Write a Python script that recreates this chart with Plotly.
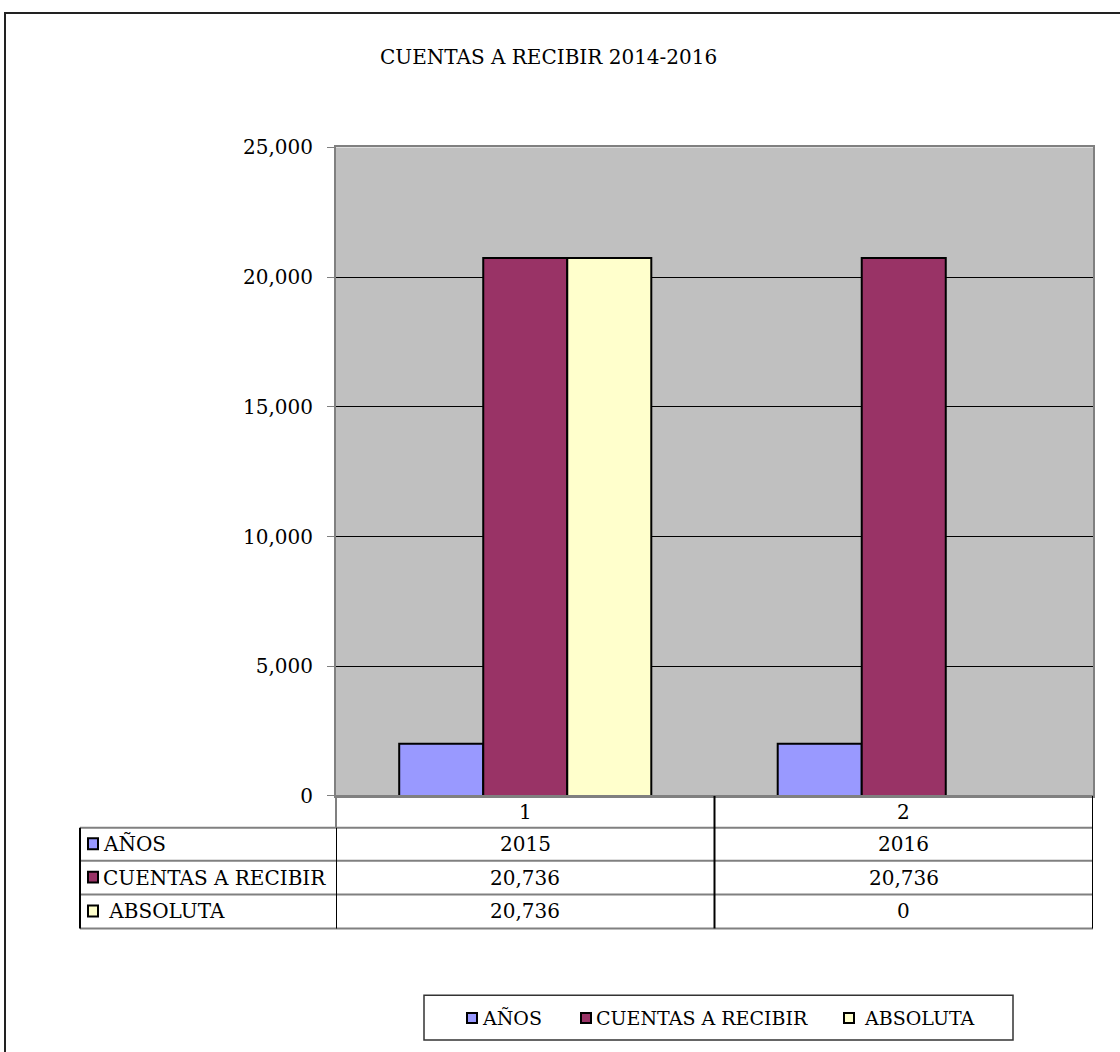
import plotly.graph_objects as go

# ---------------- data ----------------
categories = [1, 2]
years = [2015, 2016]
series_names = ["AÑOS", "CUENTAS A RECIBIR", " ABSOLUTA"]
anos_values = [2015, 2016]
cuentas_values = [20736, 20736]
absoluta_values = [20736, 0]
series_colors = ["#9999ff", "#993366", "#ffffcc"]
y_ticks = [0, 5000, 10000, 15000, 20000, 25000]
title_text = "CUENTAS A RECIBIR 2014-2016"

series_values = [anos_values, cuentas_values, absoluta_values]

# ---------------- layout constants (pixels, as seen in the picture) ----------------
W, H = 1120, 1052
PL, PR, PT, PB = 336, 1093, 146, 797        # plot area
TBL_LEFT = 80
ROW_EDGES = [797, 829, 862, 896, 930]       # header row + 3 series rows
FONT = "DejaVu Serif"
# vertical calibration of the captured picture: seen_y = OFF + SCALE * page_y
OFF, SCALE = 10.0, 0.981


def fx(p):
    return p / W


def fy(p):
    page_y = (p - OFF) / SCALE
    return 1 - page_y / H


fig = go.Figure()
for name, vals, col in zip(series_names, series_values, series_colors):
    fig.add_trace(go.Bar(
        x=categories, y=vals, name=name.strip(),
        marker=dict(color=col,
                    line=dict(color="black", width=[2 if v != 0 else 0 for v in vals])),
        showlegend=False, hoverinfo="x+y",
    ))

shapes = []
annotations = []

# outer frame
shapes.append(dict(type="rect", xref="paper", yref="paper",
                   x0=fx(5), x1=fx(1140), y0=min(fy(4), 1 - 1.0 / H), y1=-0.05,
                   line=dict(color="#222222", width=2), fillcolor="rgba(0,0,0,0)", layer="below"))

# title
annotations.append(dict(text=title_text, xref="paper", yref="paper",
                        x=fx(548), y=fy(55), xanchor="center", yanchor="middle",
                        showarrow=False, font=dict(family=FONT, size=20, color="black")))

# ---------- data table ----------
gray = "#808080"
for i, yy in enumerate(ROW_EDGES):
    x_start = PL if i == 0 else TBL_LEFT
    shapes.append(dict(type="line", xref="paper", yref="paper",
                       x0=fx(x_start), x1=fx(PR), y0=fy(yy), y1=fy(yy),
                       line=dict(color=gray, width=2)))
shapes.append(dict(type="line", xref="paper", yref="paper",
                   x0=fx(TBL_LEFT), x1=fx(TBL_LEFT), y0=fy(ROW_EDGES[1]), y1=fy(ROW_EDGES[-1]),
                   line=dict(color="black", width=2)))
shapes.append(dict(type="line", xref="paper", yref="paper",
                   x0=fx(PL), x1=fx(PL), y0=fy(ROW_EDGES[0]), y1=fy(ROW_EDGES[1]),
                   line=dict(color=gray, width=2)))
bounds = [categories[0] - 0.5] + [c + 0.5 for c in categories]
for bi, b in enumerate(bounds):
    shapes.append(dict(type="line", xref="x", yref="paper",
                       x0=b, x1=b, y0=fy(ROW_EDGES[1] if bi == 0 else ROW_EDGES[0]),
                       y1=fy(ROW_EDGES[-1]),
                       line=dict(color="black", width=2)))

for c in categories:
    annotations.append(dict(text=str(c), xref="x", yref="paper", x=c,
                            y=fy((ROW_EDGES[0] + ROW_EDGES[1]) / 2), xanchor="center",
                            yanchor="middle", showarrow=False,
                            font=dict(family=FONT, size=20, color="black")))


def fmt(v, idx):
    return str(v) if idx == 0 else f"{v:,}"


for r, (name, vals, col) in enumerate(zip(series_names, series_values, series_colors)):
    yc = (ROW_EDGES[r + 1] + ROW_EDGES[r + 2]) / 2
    shapes.append(dict(type="rect", xref="paper", yref="paper",
                       x0=fx(88), x1=fx(98), y0=fy(yc - 6), y1=fy(yc + 5),
                       fillcolor=col, line=dict(color="black", width=2)))
    label = name.replace(" ", "\u00a0", 1) if name.startswith(" ") else name
    annotations.append(dict(text=label, xref="paper", yref="paper", x=fx(101), y=fy(yc),
                            xanchor="left", yanchor="middle", showarrow=False,
                            font=dict(family=FONT, size=20, color="black")))
    for c, v in zip(categories, vals):
        annotations.append(dict(text=fmt(v, r), xref="x", yref="paper", x=c, y=fy(yc),
                                xanchor="center", yanchor="middle", showarrow=False,
                                font=dict(family=FONT, size=20, color="black")))

# ---------- legend (box at bottom) ----------
shapes.append(dict(type="rect", xref="paper", yref="paper",
                   x0=fx(424), x1=fx(1013), y0=fy(997), y1=fy(1042),
                   line=dict(color="#333333", width=1.5), fillcolor="white"))
legend_sq_x = [467, 581, 844]
ly = 1020
for name, col, sx in zip(series_names, series_colors, legend_sq_x):
    shapes.append(dict(type="rect", xref="paper", yref="paper",
                       x0=fx(sx), x1=fx(sx + 10), y0=fy(ly - 5), y1=fy(ly + 5),
                       fillcolor=col, line=dict(color="black", width=2)))
    label = name.replace(" ", "\u00a0", 1) if name.startswith(" ") else name
    annotations.append(dict(text=label, xref="paper", yref="paper", x=fx(sx + 13), y=fy(ly),
                            xanchor="left", yanchor="middle", showarrow=False,
                            font=dict(family=FONT, size=19, color="black")))

fig.update_layout(
    width=W, height=H, autosize=False,
    margin=dict(l=0, r=0, t=0, b=0),
    paper_bgcolor="white", plot_bgcolor="#c0c0c0",
    barmode="group", bargap=0.334, bargroupgap=0,
    font=dict(family=FONT, size=20, color="black"),
    xaxis=dict(domain=[fx(PL), fx(PR)], range=[bounds[0], bounds[-1]],
               tickvals=categories, showticklabels=False, ticks="",
               showgrid=False, zeroline=False,
               showline=True, linecolor=gray, linewidth=2, mirror=True, fixedrange=True),
    yaxis=dict(domain=[fy(PB), fy(PT)], range=[0, 25000], tickvals=y_ticks,
               tickformat=",", ticks="outside", ticklen=7, tickcolor=gray, tickwidth=1,
               ticklabelstandoff=10,
               showgrid=True, gridcolor="black", gridwidth=1, zeroline=False,
               showline=True, linecolor=gray, linewidth=2, mirror=True,
               tickfont=dict(family=FONT, size=20, color="black"), fixedrange=True),
    shapes=shapes, annotations=annotations,
)

post = """
document.documentElement.style.overflow='hidden';
document.body.style.margin='0';
document.body.style.padding='0';
var gd = document.getElementById('{plot_id}');
gd.style.position='absolute';
gd.style.top='0px';
gd.style.left='0px';
"""

fig.write_html("out.html", post_script=post, config={"displayModeBar": False})
